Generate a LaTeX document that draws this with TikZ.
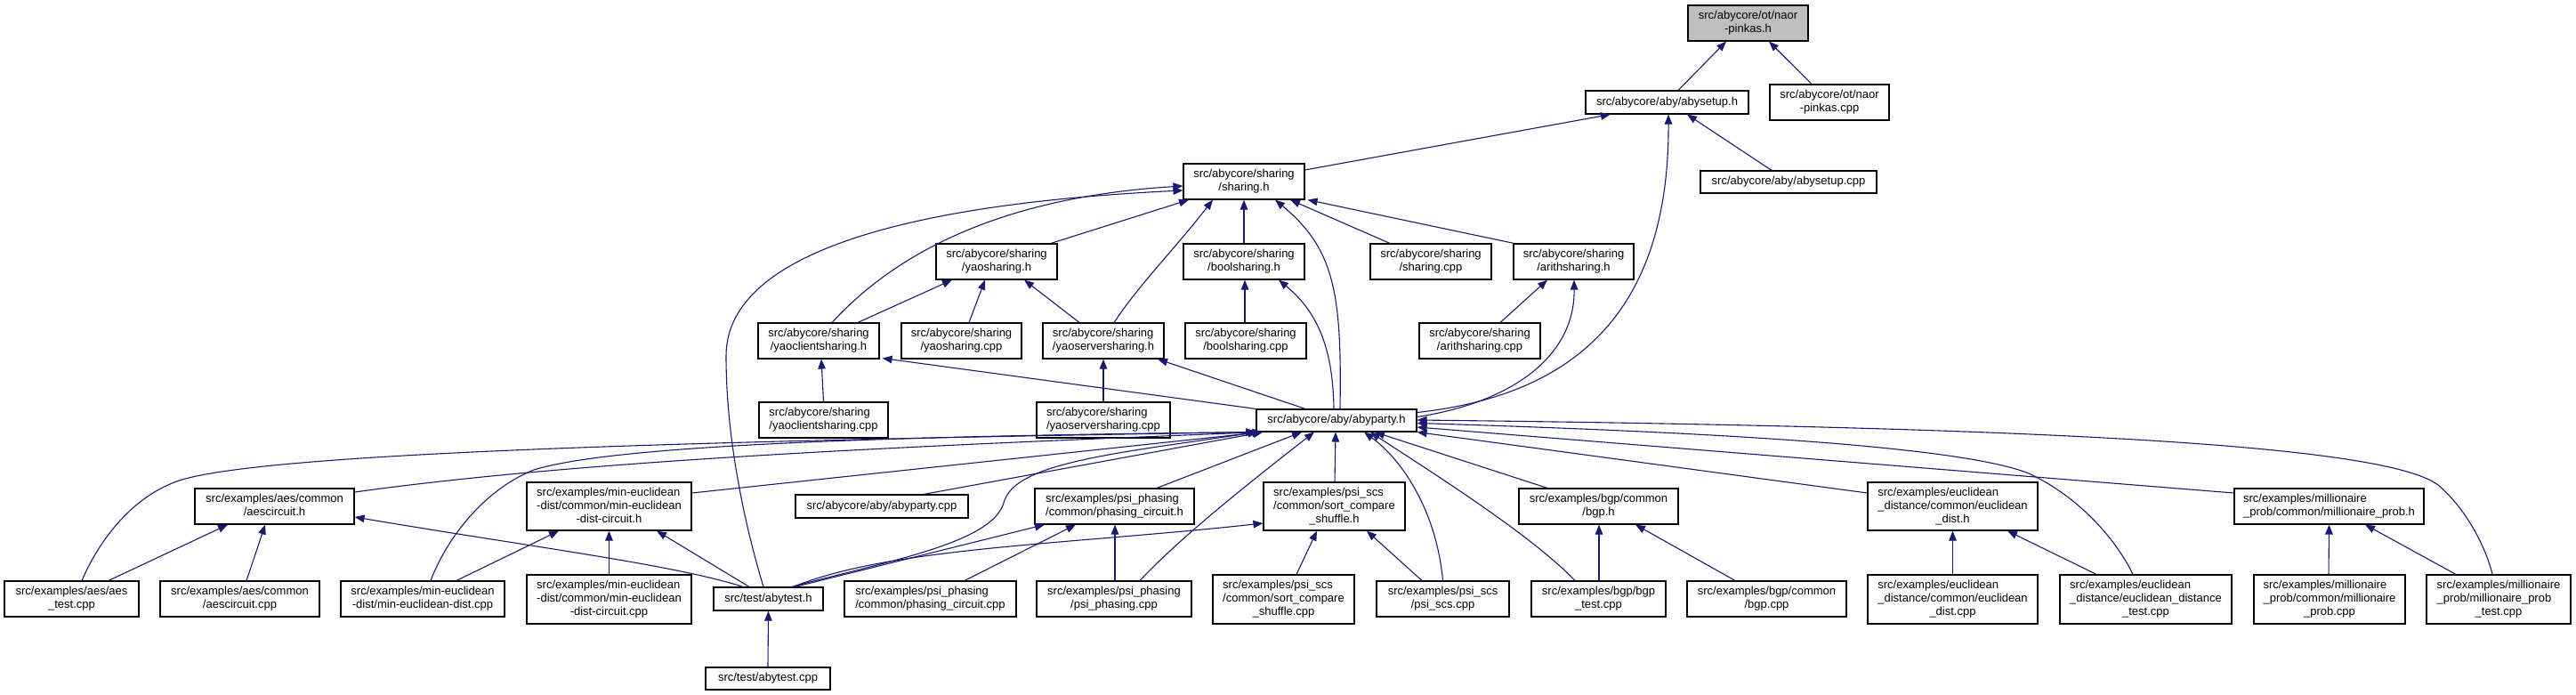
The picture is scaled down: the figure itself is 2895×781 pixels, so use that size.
\documentclass[tikz,border=0pt]{standalone}
\usepackage{fontspec}
\setmainfont{Liberation Sans}
\usetikzlibrary{arrows.meta}
\definecolor{edgeblue}{HTML}{191970}
\definecolor{rootgray}{HTML}{BFBFBF}
\newcommand{\lnB}[2]{\begin{tabular}{@{}l@{}}#1\\\multicolumn{1}{@{}c@{}}{#2}\end{tabular}}
\newcommand{\lnC}[3]{\begin{tabular}{@{}l@{}}#1\\#2\\\multicolumn{1}{@{}c@{}}{#3}\end{tabular}}
\tikzset{
  box/.style={draw=black, line width=1.1pt, fill=white, inner sep=0pt, font=\fontsize{13}{15}\selectfont, align=center},
  rootbox/.style={box, fill=rootgray},
  dep/.style={draw=edgeblue, line width=1.1pt, {Triangle[length=11pt,width=8.5pt]}-},
}
\begin{document}
\begin{tikzpicture}[x=1pt,y=-1pt]
\useasboundingbox[fill=white] (0,0) rectangle (2895,781);
% nodes
\node[rootbox, minimum width=135pt, minimum height=40pt] (npH) at (1964.5,26) {\lnB{src/abycore/ot/naor}{-pinkas.h}};
\node[box, minimum width=183pt, minimum height=26pt] (setupH) at (1873.5,115) {src/abycore/aby/abysetup.h};
\node[box, minimum width=134pt, minimum height=40pt] (npCpp) at (2056,115) {\lnB{src/abycore/ot/naor}{-pinkas.cpp}};
\node[box, minimum width=136pt, minimum height=40pt] (shH) at (1398,204) {\lnB{src/abycore/sharing}{/sharing.h}};
\node[box, minimum width=198pt, minimum height=25pt] (setupCpp) at (2010,204.5) {src/abycore/aby/abysetup.cpp};
\node[box, minimum width=136pt, minimum height=40pt] (yaoH) at (1120,294) {\lnB{src/abycore/sharing}{/yaosharing.h}};
\node[box, minimum width=136pt, minimum height=40pt] (boolH) at (1398,294) {\lnB{src/abycore/sharing}{/boolsharing.h}};
\node[box, minimum width=136pt, minimum height=40pt] (shCpp) at (1608,294) {\lnB{src/abycore/sharing}{/sharing.cpp}};
\node[box, minimum width=135pt, minimum height=40pt] (arH) at (1768.5,294) {\lnB{src/abycore/sharing}{/arithsharing.h}};
\node[box, minimum width=136pt, minimum height=40pt] (ycH) at (920,383) {\lnB{src/abycore/sharing}{/yaoclientsharing.h}};
\node[box, minimum width=135pt, minimum height=40pt] (yaoCpp) at (1080.5,383) {\lnB{src/abycore/sharing}{/yaosharing.cpp}};
\node[box, minimum width=136pt, minimum height=40pt] (ysH) at (1240,383) {\lnB{src/abycore/sharing}{/yaoserversharing.h}};
\node[box, minimum width=136pt, minimum height=40pt] (boolCpp) at (1400,383) {\lnB{src/abycore/sharing}{/boolsharing.cpp}};
\node[box, minimum width=136pt, minimum height=40pt] (arCpp) at (1663,383) {\lnB{src/abycore/sharing}{/arithsharing.cpp}};
\node[box, minimum width=145pt, minimum height=40pt] (ycCpp) at (925.5,472) {\lnB{src/abycore/sharing}{/yaoclientsharing.cpp}};
\node[box, minimum width=150pt, minimum height=40pt] (ysCpp) at (1240,472) {\lnB{src/abycore/sharing}{/yaoserversharing.cpp}};
\node[box, minimum width=180pt, minimum height=25pt] (partyH) at (1502,472.5) {src/abycore/aby/abyparty.h};
\node[box, minimum width=179pt, minimum height=40pt] (aesH) at (308.5,569) {\lnB{src/examples/aes/common}{/aescircuit.h}};
\node[box, minimum width=185pt, minimum height=54pt] (meH) at (684.5,569) {\lnC{src/examples/min-euclidean}{-dist/common/min-euclidean}{-dist-circuit.h}};
\node[box, minimum width=194pt, minimum height=26pt] (partyCpp) at (991,569) {src/abycore/aby/abyparty.cpp};
\node[box, minimum width=179pt, minimum height=40pt] (phH) at (1252.5,569) {\lnB{src/examples/psi\_phasing}{/common/phasing\_circuit.h}};
\node[box, minimum width=159pt, minimum height=54pt] (scsH) at (1499.5,569) {\lnC{src/examples/psi\_scs}{/common/sort\_compare}{\_shuffle.h}};
\node[box, minimum width=179pt, minimum height=40pt] (bgpH) at (1796.5,569) {\lnB{src/examples/bgp/common}{/bgp.h}};
\node[box, minimum width=191pt, minimum height=54pt] (euH) at (2194.5,569) {\lnC{src/examples/euclidean}{\_distance/common/euclidean}{\_dist.h}};
\node[box, minimum width=213pt, minimum height=40pt] (miH) at (2617.5,569) {\lnB{src/examples/millionaire}{\_prob/common/millionaire\_prob.h}};
\node[box, minimum width=151pt, minimum height=40pt] (aesTest) at (80.5,673) {\lnB{src/examples/aes/aes}{\_test.cpp}};
\node[box, minimum width=179pt, minimum height=40pt] (aesCpp) at (269.5,673) {\lnB{src/examples/aes/common}{/aescircuit.cpp}};
\node[box, minimum width=184pt, minimum height=40pt] (meCpp) at (475,673) {\lnB{src/examples/min-euclidean}{-dist/min-euclidean-dist.cpp}};
\node[box, minimum width=185pt, minimum height=55pt] (meCircCpp) at (684.5,673.5) {\lnC{src/examples/min-euclidean}{-dist/common/min-euclidean}{-dist-circuit.cpp}};
\node[box, minimum width=123pt, minimum height=26pt] (testH) at (863.5,673) {src/test/abytest.h};
\node[box, minimum width=193pt, minimum height=40pt] (phCpp) at (1045.5,673) {\lnB{src/examples/psi\_phasing}{/common/phasing\_circuit.cpp}};
\node[box, minimum width=174pt, minimum height=40pt] (ppCpp) at (1252,673) {\lnB{src/examples/psi\_phasing}{/psi\_phasing.cpp}};
\node[box, minimum width=159pt, minimum height=55pt] (scsCpp) at (1442.5,673.5) {\lnC{src/examples/psi\_scs}{/common/sort\_compare}{\_shuffle.cpp}};
\node[box, minimum width=149pt, minimum height=40pt] (psCpp) at (1621.5,673) {\lnB{src/examples/psi\_scs}{/psi\_scs.cpp}};
\node[box, minimum width=151pt, minimum height=40pt] (bgpTest) at (1796.5,673) {\lnB{src/examples/bgp/bgp}{\_test.cpp}};
\node[box, minimum width=179pt, minimum height=40pt] (bgpCpp) at (1985.5,673) {\lnB{src/examples/bgp/common}{/bgp.cpp}};
\node[box, minimum width=191pt, minimum height=55pt] (euCpp) at (2194.5,673.5) {\lnC{src/examples/euclidean}{\_distance/common/euclidean}{\_dist.cpp}};
\node[box, minimum width=193pt, minimum height=55pt] (euTest) at (2411.5,673.5) {\lnC{src/examples/euclidean}{\_distance/euclidean\_distance}{\_test.cpp}};
\node[box, minimum width=170pt, minimum height=55pt] (miCpp) at (2618,673.5) {\lnC{src/examples/millionaire}{\_prob/common/millionaire}{\_prob.cpp}};
\node[box, minimum width=162pt, minimum height=55pt] (miTest) at (2808,673.5) {\lnC{src/examples/millionaire}{\_prob/millionaire\_prob}{\_test.cpp}};
\node[box, minimum width=140pt, minimum height=25pt] (testCpp) at (863,762.5) {src/test/abytest.cpp};
% edges (arrow at the included file)
\draw[dep] ([xshift=-24.5pt]npH.south) -- ([xshift=12.5pt]setupH.north);
\draw[dep] ([xshift=23.5pt]npH.south) -- ([xshift=-20pt]npCpp.north);
\draw[dep] ([xshift=-63.5pt]setupH.south) -- ([yshift=13pt]shH.east);
\draw[dep] ([xshift=22.5pt]setupH.south) -- ([xshift=-19pt]setupCpp.north);
\draw[dep] ([xshift=1.5pt]setupH.south) .. controls (1876,360) and (1760,445) .. ([yshift=9pt]partyH.east);
\draw[dep] ([xshift=-62pt]shH.south) -- ([xshift=61pt]yaoH.north);
\draw[dep] (shH.south) -- (boolH.north);
\draw[dep] ([xshift=52pt]shH.south) -- ([xshift=-46pt]shCpp.north);
\draw[dep] ([xshift=3pt]shH.south east) -- ([xshift=-67pt]arH.north);
\draw[dep] ([yshift=-5pt]shH.west) .. controls (1150,220) and (1020,270) .. ([xshift=15pt]ycH.north);
\draw[dep] ([yshift=-10pt]shH.west) .. controls (1000,230) and (816,290) .. (816,400) .. controls (816,500) and (840,600) .. ([xshift=-5.5pt]testH.north);
\draw[dep] ([xshift=-35pt]shH.south) .. controls (1320,280) and (1280,320) .. ([xshift=12pt]ysH.north);
\draw[dep] ([xshift=35pt]shH.south) .. controls (1500,280) and (1508,330) .. ([xshift=4pt]partyH.north);
\draw[dep] ([xshift=39pt]boolH.south) .. controls (1480,350) and (1498,390) .. ([xshift=-3pt]partyH.north);
\draw[dep] ([xshift=1pt]boolH.south) -- ([xshift=-1pt]boolCpp.north);
\draw[dep] ([xshift=-29.5pt]arH.south) -- ([xshift=23pt]arCpp.north);
\draw[dep] ([xshift=0.5pt]arH.south) .. controls (1770,400) and (1700,452) .. ([yshift=4pt]partyH.east);
\draw[dep] ([xshift=-50pt]yaoH.south) -- ([xshift=44pt]ycH.north);
\draw[dep] ([xshift=-13pt]yaoH.south) -- ([xshift=8.5pt]yaoCpp.north);
\draw[dep] ([xshift=31pt]yaoH.south) -- ([xshift=-27pt]ysH.north);
\draw[dep] ([xshift=3pt]ycH.south) -- (ycCpp.north);
\draw[dep] ([xshift=3pt,yshift=1pt]ycH.south east) -- (partyH.north west);
\draw[dep] (ysH.south) -- (ysCpp.north);
\draw[dep] ([xshift=61pt]ysH.south) -- ([xshift=-35pt]partyH.north);
% into abyparty.h from below-left
\draw[dep] (partyH.south west) .. controls (800,495) and (330,508) .. (212,537) .. controls (150,552) and (110,610) .. ([xshift=11.5pt]aesTest.north);
\draw[dep] ([xshift=7pt]partyH.south west) .. controls (1000,502) and (650,518) .. ([yshift=16pt]aesH.east);
\draw[dep] (partyH.south west) .. controls (1000,490) and (690,500) .. (600,528) .. controls (540,552) and (500,610) .. ([xshift=9pt]meCpp.north);
\draw[dep] ([xshift=7pt]partyH.south west) -- ([yshift=15pt]meH.east);
\draw[dep] ([xshift=8pt]partyH.south west) -- ([xshift=47pt]partyCpp.north);
\draw[dep] ([xshift=2pt]partyH.south west) .. controls (1250,510) and (1140,520) .. (1128,565) .. controls (1115,610) and (1000,630) .. ([xshift=26pt]testH.north);
\draw[dep] ([xshift=-39pt]partyH.south) -- ([xshift=47.5pt]phH.north);
\draw[dep] ([xshift=-25pt]partyH.south) .. controls (1420,530) and (1330,600) .. ([xshift=29pt]ppCpp.north);
\draw[dep] ([xshift=-1pt]partyH.south) -- ([xshift=0.5pt]scsH.north);
\draw[dep] ([xshift=31pt]partyH.south) .. controls (1580,520) and (1615,580) .. (psCpp.north);
\draw[dep] ([xshift=43pt]partyH.south) -- ([xshift=-57.5pt]bgpH.north);
\draw[dep] ([xshift=38pt]partyH.south) .. controls (1600,525) and (1720,600) .. ([xshift=-26.5pt]bgpTest.north);
\draw[dep] (partyH.south east) -- ([yshift=15pt]euH.west);
\draw[dep] ([yshift=-3pt]partyH.east) .. controls (1900,485) and (2200,500) .. (2280,532) .. controls (2340,560) and (2380,610) .. ([xshift=-14.5pt]euTest.north);
\draw[dep] ([yshift=-7.5pt]partyH.east) -- ([yshift=15pt]miH.west);
\draw[dep] ([yshift=0.5pt]partyH.east) .. controls (2300,480) and (2680,500) .. (2740,545) .. controls (2775,575) and (2795,620) .. ([xshift=-7pt]miTest.north);
% lower level
\draw[dep] ([xshift=-52.5pt]aesH.south) -- ([xshift=41.5pt]aesTest.north);
\draw[dep] ([xshift=-10.5pt]aesH.south) -- ([xshift=7.5pt]aesCpp.north);
\draw[dep] ([yshift=-12pt]aesH.east) .. controls (600,615) and (760,635) .. ([xshift=-28.5pt]testH.north);
\draw[dep] ([xshift=-56.5pt]meH.south) -- ([xshift=38pt]meCpp.north);
\draw[dep] (meH.south) -- (meCircCpp.north);
\draw[dep] ([xshift=53.5pt]meH.south) -- ([xshift=-21.5pt]testH.north);
\draw[dep] ([xshift=-78.5pt]phH.south) -- ([xshift=30pt]testH.north);
\draw[dep] ([xshift=-43.5pt]phH.south) -- ([xshift=38.5pt]phCpp.north);
\draw[dep] ([xshift=0.5pt]phH.south) -- ([xshift=1pt]ppCpp.north);
\draw[dep] ([yshift=-19pt]scsH.west) .. controls (1200,612) and (1000,615) .. ([xshift=28pt]testH.north);
\draw[dep] ([xshift=-19.5pt]scsH.south) -- ([xshift=14.5pt]scsCpp.north);
\draw[dep] ([xshift=36.5pt]scsH.south) -- ([xshift=-23.5pt]psCpp.north);
\draw[dep] ([xshift=0.5pt]bgpH.south) -- ([xshift=0.5pt]bgpTest.north);
\draw[dep] ([xshift=41.5pt]bgpH.south) -- ([xshift=-35.5pt]bgpCpp.north);
\draw[dep] (euH.south) -- (euCpp.north);
\draw[dep] ([xshift=61.5pt]euH.south) -- ([xshift=-55.5pt]euTest.north);
\draw[dep] (miH.south) -- ([xshift=-1pt]miCpp.north);
\draw[dep] ([xshift=40.5pt]miH.south) -- ([xshift=-48pt]miTest.north);
\draw[dep] (testH.south) -- (testCpp.north);
\end{tikzpicture}
\end{document}
